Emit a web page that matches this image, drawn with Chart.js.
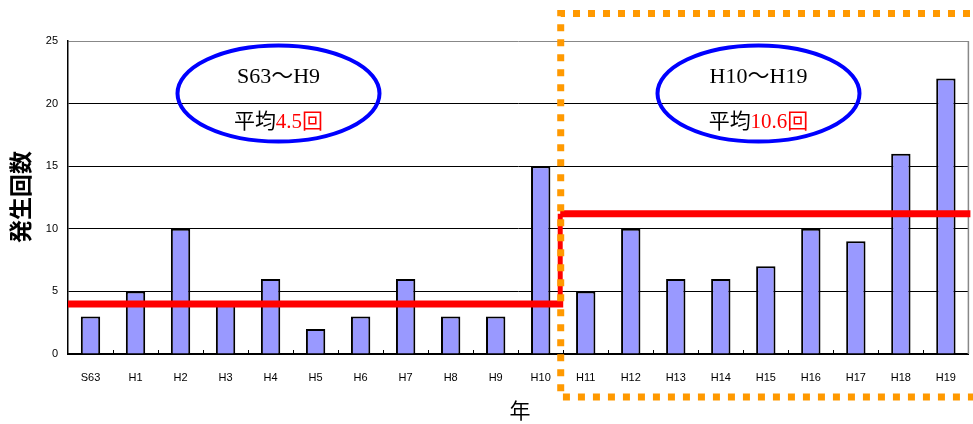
<!DOCTYPE html>
<html>
<head>
<meta charset="utf-8">
<script src="https://cdn.jsdelivr.net/npm/chart.js@4"></script>
<style>
  html, body { margin: 0; padding: 0; background: #fff; }
  canvas { display: block; }
</style>
</head>
<body>
<canvas id="bar-chart" width="973" height="424"></canvas>
<script>
// data
const labels = ["S63", "H1", "H2", "H3", "H4", "H5", "H6", "H7", "H8", "H9",
                "H10", "H11", "H12", "H13", "H14", "H15", "H16", "H17", "H18", "H19"];
const counts = [3, 5, 10, 4, 6, 2, 3, 6, 3, 3, 15, 5, 10, 6, 6, 7, 10, 9, 16, 22];
const yTicks = [0, 5, 10, 15, 20, 25];
// period average lines (as drawn) and their ranges [first, last category]
const avgLevels = [4.0, 11.2];
const avgRanges = [[0, 10], [11, 19]];
const periodNames = ["S63～H9", "H10～H19"];
const periodAvgText = ["4.5回", "10.6回"];

// overlay: red average lines, ellipses, orange dotted box, inner ticks
const overlay = {
  id: "overlay",
  afterDraw(chart) {
    const { ctx, chartArea: a, scales: { x, y } } = chart;
    ctx.save();

    // right/top border grey
    ctx.strokeStyle = "#888";
    ctx.lineWidth = 1.5;
    ctx.beginPath();
    ctx.moveTo(a.right, a.top);
    ctx.lineTo(a.right, a.bottom);
    ctx.stroke();

    // small inner ticks at category boundaries
    ctx.strokeStyle = "#000";
    ctx.lineWidth = 1;
    for (let i = 1; i < labels.length; i++) {
      const px = Math.round(x.getPixelForValue(i - 0.5)) + 0.5;
      ctx.beginPath();
      ctx.moveTo(px, a.bottom);
      ctx.lineTo(px, a.bottom - 4);
      ctx.stroke();
    }

    // average lines
    const split = x.getPixelForValue(avgRanges[1][0] - 0.5);
    ctx.strokeStyle = "#ff0000";
    ctx.lineWidth = 7;
    avgRanges.forEach((r, i) => {
      const py = y.getPixelForValue(avgLevels[i]);
      const x0 = i === 0 ? a.left : split - 3;
      const x1 = i === 0 ? split : a.right + 2;
      ctx.beginPath();
      ctx.moveTo(x0, py);
      ctx.lineTo(x1, py);
      ctx.stroke();
    });
    ctx.lineWidth = 5;
    ctx.beginPath();
    ctx.moveTo(split - 3, y.getPixelForValue(avgLevels[0]));
    ctx.lineTo(split - 3, y.getPixelForValue(avgLevels[1]));
    ctx.stroke();

    // orange dotted box
    const bx = split - 2.5;
    ctx.strokeStyle = "#ff9900";
    ctx.lineWidth = 7;
    ctx.setLineDash([7, 8]);
    ctx.beginPath();
    ctx.moveTo(985, 13.5);
    ctx.lineTo(bx, 13.5);
    ctx.lineTo(bx, 397);
    ctx.lineTo(985, 397);
    ctx.stroke();
    ctx.setLineDash([]);

    // ellipses with period labels
    const centers = [[278.5, 93.5], [758.5, 93.5]];
    centers.forEach((c, i) => {
      ctx.strokeStyle = "#0000ff";
      ctx.lineWidth = 4;
      ctx.beginPath();
      ctx.ellipse(c[0], c[1], 101, 48, 0, 0, Math.PI * 2);
      ctx.stroke();

      ctx.textBaseline = "middle";
      ctx.font = "22px 'Liberation Serif', 'Noto Sans CJK JP', serif";
      ctx.fillStyle = "#000";
      ctx.textAlign = "center";
      ctx.fillText(periodNames[i], c[0], c[1] - 16);

      ctx.font = "21px 'Liberation Serif', 'Noto Sans CJK JP', serif";
      const head = "平均";
      const w1 = ctx.measureText(head).width;
      const w2 = ctx.measureText(periodAvgText[i]).width;
      const sx = c[0] - (w1 + w2) / 2;
      ctx.textAlign = "left";
      ctx.fillText(head, sx, c[1] + 29);
      ctx.fillStyle = "#ff0000";
      ctx.fillText(periodAvgText[i], sx + w1, c[1] + 29);
    });

    // axis titles
    ctx.fillStyle = "#000";
    ctx.textAlign = "center";
    ctx.textBaseline = "middle";
    ctx.font = "21px 'Noto Sans CJK JP', sans-serif";
    ctx.fillText("年", 520, 410);
    ctx.save();
    ctx.translate(20, 197);
    ctx.rotate(-Math.PI / 2);
    ctx.font = "bold 23px 'Noto Sans CJK JP', sans-serif";
    ctx.fillText("発生回数", 0, 0);
    ctx.restore();

    ctx.restore();
  }
};

const config = {
  type: "bar",
  data: {
    labels: labels,
    datasets: [
      {
        label: "発生回数",
        data: counts,
        backgroundColor: "#9999ff",
        borderColor: "#000000",
        borderWidth: 2,
        barPercentage: 0.43,
        categoryPercentage: 1,
      },
    ],
  },
  options: {
    responsive: false,
    animation: false,
    layout: { padding: { top: 41, right: 1, left: 0, bottom: 0 } },
    plugins: {
      legend: { display: false },
      tooltip: { enabled: false },
      title: { display: false },
    },
    scales: {
      x: {
        afterFit: (s) => { s.height = 70; },
        grid: { display: false, drawTicks: false },
        border: { color: "#000", width: 2 },
        ticks: {
          color: "#000",
          padding: 17,
          maxRotation: 0,
          autoSkip: false,
          font: { family: "'Liberation Sans', Arial, sans-serif", size: 11 },
        },
      },
      y: {
        min: 0,
        max: 25,
        afterFit: (s) => { s.width = 68; },
        afterBuildTicks: (s) => { s.ticks = yTicks.map((v) => ({ value: v })); },
        grid: {
          drawTicks: false,
          color: (c) => (c.tick && c.tick.value === 25 ? "#888" : "#000"),
          lineWidth: 1,
        },
        border: { color: "#000", width: 1.5 },
        ticks: {
          color: "#000",
          padding: 10,
          font: { family: "'Liberation Sans', Arial, sans-serif", size: 11 },
        },
      },
    },
  },
  plugins: [overlay],
};

const ctx = document.getElementById("bar-chart").getContext("2d");
new Chart(ctx, config);
</script>
</body>
</html>
